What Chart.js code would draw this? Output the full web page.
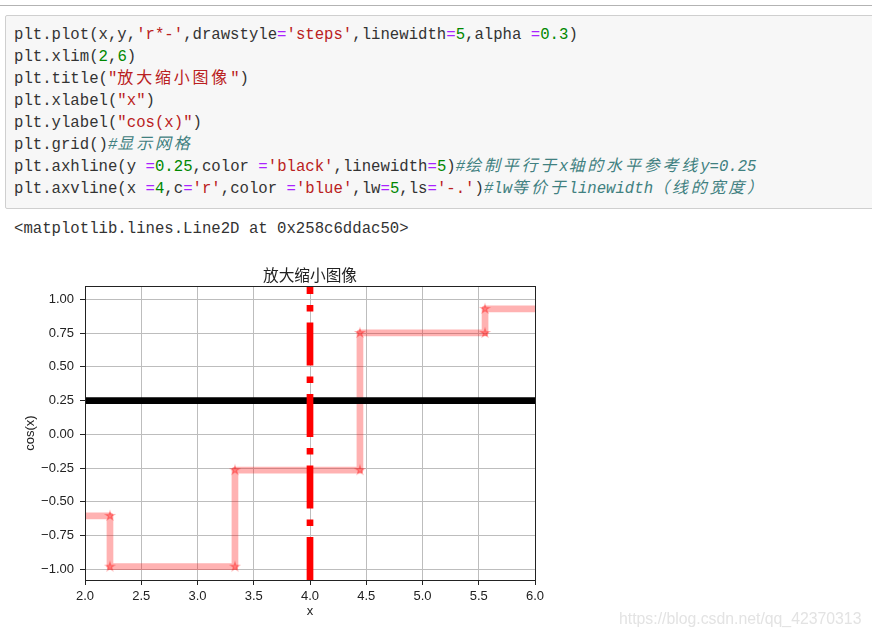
<!DOCTYPE html>
<html>
<head>
<meta charset="utf-8">
<script src="https://cdn.jsdelivr.net/npm/chart.js@4.4.1/dist/chart.umd.min.js"></script>
<style>
  html, body { margin:0; padding:0; background:#fff; width:872px; height:638px; overflow:hidden; }
  .topline { position:absolute; left:0; top:5px; width:872px; height:1px; background:#b3b3b3; }
  .cell { position:absolute; left:5px; top:15px; width:900px; height:192px; background:#f7f7f7;
          border:1px solid #cfcfcf; border-radius:2px; }
  .code { position:absolute; left:14px; top:24px; font-family:"Liberation Mono", monospace; font-size:15.67px;
          color:#333; }
  .code div, .out div { height:22px; line-height:22px; white-space:pre; }
  .out { position:absolute; left:14px; top:218px; font-family:"Liberation Mono", monospace; font-size:15.67px;
         color:#333; }
  .s { color:#BA2121; }
  .n { color:#008800; }
  .o { color:#AA22FF; }
  .c { color:#408080; font-style:italic; }
  .k { font-family:"Noto Sans CJK SC", sans-serif; font-size:16px; letter-spacing:2.8px; line-height:0; }
  #chart { position:absolute; left:0; top:250px; }
  .wm { position:absolute; left:619px; top:610px; font-family:"Liberation Sans", Arial, sans-serif;
        font-size:15.8px; line-height:18px; color:#e3e3e3; white-space:nowrap; }
</style>
</head>
<body>
<div class="topline"></div>
<div class="cell"></div>
<div class="code"><div>plt.plot(x,y,<span class="s">'r*-'</span>,drawstyle<span class="o">=</span><span class="s">'steps'</span>,linewidth<span class="o">=</span><span class="n">5</span>,alpha <span class="o">=</span><span class="n">0.3</span>)</div><div>plt.xlim(<span class="n">2</span>,<span class="n">6</span>)</div><div>plt.title(<span class="s">"<span class="k">放大缩小图像</span>"</span>)</div><div>plt.xlabel(<span class="s">"x"</span>)</div><div>plt.ylabel(<span class="s">"cos(x)"</span>)</div><div>plt.grid()<span class="c">#<span class="k">显示网格</span></span></div><div>plt.axhline(y <span class="o">=</span><span class="n">0.25</span>,color <span class="o">=</span><span class="s">'black'</span>,linewidth<span class="o">=</span><span class="n">5</span>)<span class="c">#<span class="k">绘制平行于</span>x<span class="k">轴的水平参考线</span>y=0.25</span></div><div>plt.axvline(x <span class="o">=</span><span class="n">4</span>,c<span class="o">=</span><span class="s">'r'</span>,color <span class="o">=</span><span class="s">'blue'</span>,lw<span class="o">=</span><span class="n">5</span>,ls<span class="o">=</span><span class="s">'-.'</span>)<span class="c">#lw<span class="k">等价于</span>linewidth<span class="k">（线的宽度）</span></span></div></div>
<div class="out"><div>&lt;matplotlib.lines.Line2D at 0x258c6ddac50&gt;</div></div>
<canvas id="chart" width="620" height="388"></canvas>
<div class="wm">https://blog.csdn.net/qq_42370313</div>
<script>
// ---- data ----
const xs = [1.111, 2.222, 3.333, 4.444, 5.556, 6.667];
const ys = [0.444, -0.605, -0.981, -0.266, 0.751, 0.929];
const xLimits = [2, 6];
const yLimits = [-1.08, 1.099];
const xTicks = [2.0, 2.5, 3.0, 3.5, 4.0, 4.5, 5.0, 5.5, 6.0];
const xTickLabels = ['2.0', '2.5', '3.0', '3.5', '4.0', '4.5', '5.0', '5.5', '6.0'];
const yTicks = [-1.0, -0.75, -0.5, -0.25, 0.0, 0.25, 0.5, 0.75, 1.0];
const yTickLabels = ['\u22121.00', '\u22120.75', '\u22120.50', '\u22120.25', '0.00', '0.25', '0.50', '0.75', '1.00'];
const hLineY = 0.25;
const vLineX = 4;
const chartTitle = '放大缩小图像';
const xLabel = 'x';
const yLabel = 'cos(x)';

// ---- derived structures ----
const stepData = xs.map((x, i) => ({ x: x, y: ys[i] }));
const vertices = [];
xs.forEach((x, i) => {
  if (i > 0) vertices.push({ x: xs[i - 1], y: ys[i] });
  vertices.push({ x: x, y: ys[i] });
});

// star marker (matplotlib '*')
function makeStar() {
  const c = document.createElement('canvas');
  c.width = 14; c.height = 14;
  const g = c.getContext('2d');
  const R = 4.4, r = R * 0.381966, cx = 7, cy = 7;
  g.beginPath();
  for (let k = 0; k < 10; k++) {
    const rad = (k % 2 === 0) ? R : r;
    const a = -Math.PI / 2 + k * Math.PI / 5;
    const px = cx + rad * Math.cos(a), py = cy + rad * Math.sin(a);
    if (k === 0) g.moveTo(px, py); else g.lineTo(px, py);
  }
  g.closePath();
  g.fillStyle = 'rgba(255,0,0,0.3)';
  g.fill();
  g.strokeStyle = 'rgba(255,0,0,0.3)';
  g.lineWidth = 1.3;
  g.stroke();
  return c;
}

const spines = {
  id: 'spines',
  afterDatasetsDraw(chart) {
    const { ctx, chartArea: a } = chart;
    ctx.save();
    ctx.strokeStyle = '#222';
    ctx.lineWidth = 1;
    const l = Math.round(a.left) + 0.5, t = Math.round(a.top) + 0.5;
    const r = Math.round(a.right) + 0.5, b = Math.round(a.bottom) + 0.5;
    ctx.strokeRect(l, t, r - l, b - t);
    ctx.restore();
  }
};

const tickFont = { family: 'Liberation Sans', size: 13 };

new Chart(document.getElementById('chart'), {
  type: 'line',
  data: {
    datasets: [
      { label: 'axvline', data: [{ x: vLineX, y: yLimits[0] }, { x: vLineX, y: yLimits[1] }],
        borderColor: '#ff0000', borderWidth: 6.7, borderDash: [43, 11, 6.5, 11], borderCapStyle: 'butt',
        pointRadius: 0, order: 0, clip: 0 },
      { label: 'axhline', data: [{ x: xLimits[0], y: hLineY }, { x: xLimits[1], y: hLineY }],
        borderColor: '#000000', borderWidth: 6.7, pointRadius: 0, order: 1, clip: 0 },
      { label: 'markers', data: vertices, showLine: false, pointStyle: makeStar(), pointRadius: 4,
        order: 2, clip: 0 },
      { label: 'steps', data: stepData, stepped: 'after', borderColor: 'rgba(255,0,0,0.3)', borderWidth: 6.7,
        borderJoinStyle: 'round', pointRadius: 0, order: 3, clip: 0 }
    ]
  },
  options: {
    responsive: false,
    animation: false,
    devicePixelRatio: 1,
    layout: { padding: 0 },
    plugins: {
      legend: { display: false },
      tooltip: { enabled: false },
      title: { display: true, text: chartTitle, color: '#222',
               font: { family: 'Noto Sans CJK SC', size: 15.7, weight: 'normal' },
               padding: { top: 15.58, bottom: 1.58 } }
    },
    scales: {
      x: {
        type: 'linear', min: xLimits[0], max: xLimits[1], bounds: 'data',
        afterBuildTicks: s => { s.ticks = xTicks.map(v => ({ value: v })); },
        afterFit: s => { s.height = 58; },
        ticks: { autoSkip: false, maxRotation: 0, padding: 4, color: '#222', font: tickFont,
                 callback: (v, i) => xTickLabels[i] },
        grid: { color: '#bdbdbd', lineWidth: 1, tickLength: 5, tickColor: '#222', tickWidth: 1 },
        border: { display: false },
        title: { display: true, text: xLabel, color: '#222', font: tickFont, padding: { top: 0, bottom: 18.5 } }
      },
      y: {
        type: 'linear', position: 'left', min: yLimits[0], max: yLimits[1], bounds: 'data',
        afterBuildTicks: s => { s.ticks = yTicks.map(v => ({ value: v })); },
        afterFit: s => { s.width = 85; },
        ticks: { autoSkip: false, padding: 6, color: '#222', font: tickFont,
                 callback: (v, i) => yTickLabels[i] },
        grid: { color: '#bdbdbd', lineWidth: 1, tickLength: 5, tickColor: '#222', tickWidth: 1 },
        border: { display: false },
        title: { display: true, text: yLabel, color: '#222', font: tickFont, padding: { top: 22.5, bottom: 0 } }
      },
      y2: {
        type: 'linear', position: 'right', display: true,
        afterFit: s => { s.width = 85; },
        ticks: { display: false },
        grid: { display: false, drawTicks: false },
        border: { display: false }
      }
    }
  },
  plugins: [spines]
});
</script>
</body>
</html>
